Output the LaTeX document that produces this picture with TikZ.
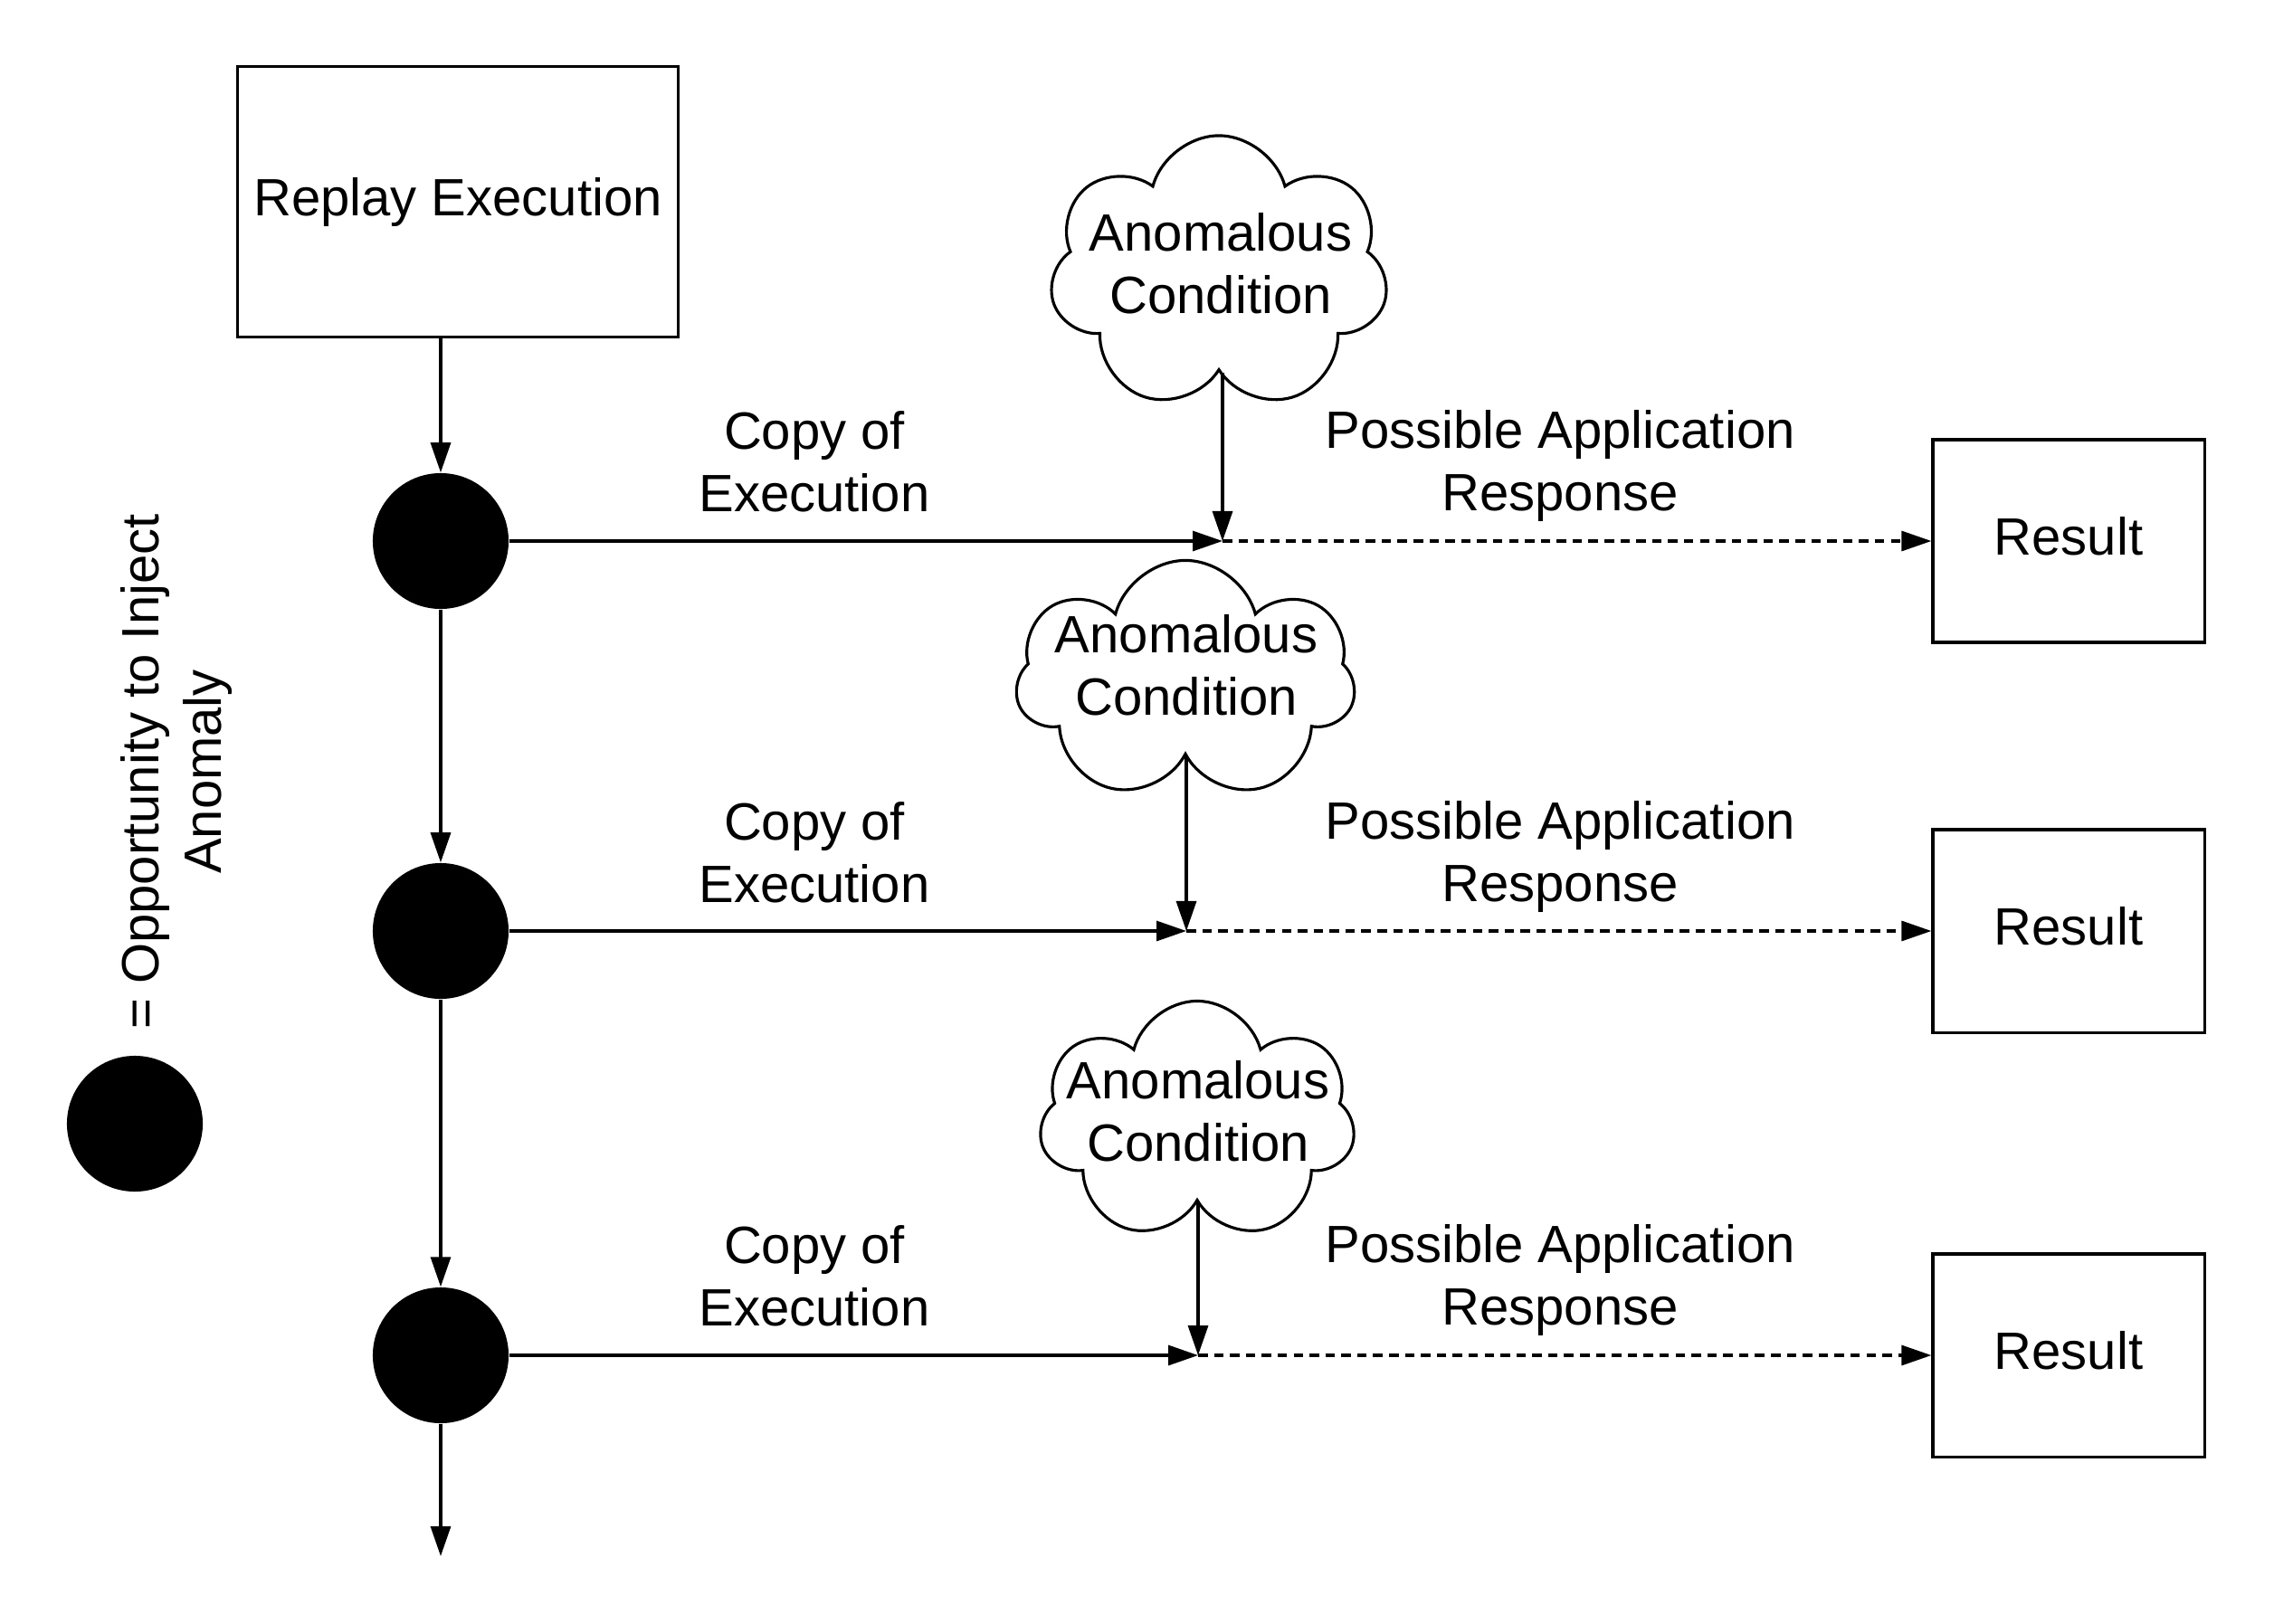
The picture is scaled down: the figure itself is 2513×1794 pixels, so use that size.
\documentclass[tikz,border=0pt]{standalone}
\usepackage{fontspec}
\setmainfont{Liberation Sans}
\usetikzlibrary{arrows.meta,positioning,shapes.symbols}

\tikzset{
  box/.style={draw, line width=0.9pt, align=center, inner sep=0pt},
  dot/.style={circle, fill=black, minimum size=1.5cm, inner sep=0pt},
  anomaly/.style={cloud, cloud puffs=7, cloud ignores aspect, draw, fill=white,
    line width=0.9pt, inner sep=0pt},
  flow/.style={-{Triangle[length=0.33cm,width=0.22cm]}, line width=0.9pt},
  maybe/.style={flow, dash pattern=on 3pt off 2pt},
  lbl/.style={align=center, inner sep=0pt},
}

\begin{document}
\begin{tikzpicture}[x=0.01cm, y=-0.01cm, font=\fontsize{16.5}{19.7}\selectfont]
	\useasboundingbox (0,0) rectangle (2513,1794);
	% main line
	\node[box, minimum width=4.87cm, minimum height=2.99cm] (replay) at (506,223) {Replay Execution};
	\node[dot] (d1) at (487,598) {};
	\node[dot] (d2) at (487,1029) {};
	\node[dot] (d3) at (487,1498) {};
	\coordinate (end) at (487,1720);
	\draw[flow] (replay.south -| d1) -- (d1);
	\draw[flow] (d1) -- (d2);
	\draw[flow] (d2) -- (d3);
	\draw[flow] (d3) -- (end);
	% legend
	\node[dot] (key) at (149,1242) {};
	\node[lbl, rotate=90] (keytext) at (195,853) {= Opportunity to Inject\\Anomaly};
	% anomalies
	\node[anomaly, minimum width=3.74cm, minimum height=3.04cm] (a1) at (1347,302) {};
	\node[anomaly, minimum width=3.75cm, minimum height=2.65cm] (a2) at (1310,752) {};
	\node[anomaly, minimum width=3.49cm, minimum height=2.65cm] (a3) at (1323,1239) {};
	\node[lbl] (a1text) at (1349,291) {Anomalous\\Condition};
	\node[lbl] (a2text) at (1311,735) {Anomalous\\Condition};
	\node[lbl] (a3text) at (1324,1228) {Anomalous\\Condition};
	\coordinate (m1) at (1351,598);
	\coordinate (m2) at (1311,1029);
	\coordinate (m3) at (1324,1498);
	% results
	\node[box, minimum width=3cm, minimum height=2.24cm, text depth=0.12cm] (r1) at (2286,598) {Result};
	\node[box, minimum width=3cm, minimum height=2.24cm, text depth=0.12cm] (r2) at (2286,1029) {Result};
	\node[box, minimum width=3cm, minimum height=2.24cm, text depth=0.12cm] (r3) at (2286,1498) {Result};
	% rows
	\draw[flow] (d1) -- (m1);
	\draw[flow] (a1.south -| m1) -- (m1);
	\draw[maybe] (m1) -- (r1);
	\draw[flow] (d2) -- (m2);
	\draw[flow] (a2.south -| m2) -- (m2);
	\draw[maybe] (m2) -- (r2);
	\draw[flow] (d3) -- (m3);
	\draw[flow] (a3.south -| m3) -- (m3);
	\draw[maybe] (m3) -- (r3);
	% labels
	\node[lbl] (copy1) at (900,510) {Copy of\\Execution};
	\node[lbl] (resp1) at (1724,515) {Possible Application\\Response};
	\node[lbl] (copy2) at (900,942) {Copy of\\Execution};
	\node[lbl] (resp2) at (1724,947) {Possible Application\\Response};
	\node[lbl] (copy3) at (900,1410) {Copy of\\Execution};
	\node[lbl] (resp3) at (1724,1415) {Possible Application\\Response};
\end{tikzpicture}
\end{document}
